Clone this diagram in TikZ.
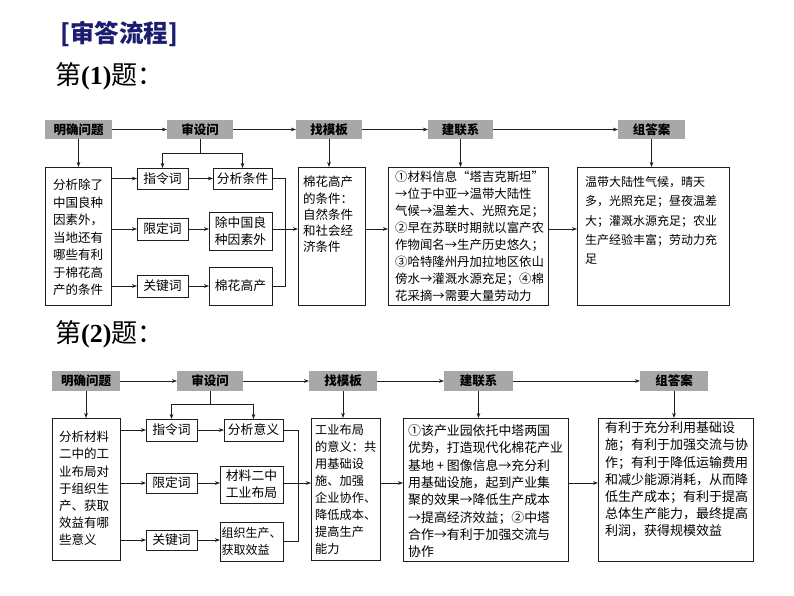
\documentclass[tikz,border=0pt]{standalone}
\usepackage{fontspec}
\setmainfont{Noto Sans CJK SC}
\newfontfamily\serifL{Liberation Serif}
\usetikzlibrary{arrows.meta}
\definecolor{navy}{RGB}{28,28,112}
\definecolor{hdrgray}{RGB}{168,168,168}
\definecolor{edge}{RGB}{30,30,30}
\tikzset{
  box/.style={draw=edge, line width=0.9pt, inner sep=0pt, outer sep=0pt},
  hdr/.style={fill=hdrgray, draw=none, inner sep=0pt, outer sep=0pt, font=\fontsize{12.5}{14}\selectfont\bfseries},
  sm/.style={box, align=center, font=\fontsize{12.8}{17}\selectfont},
  txt/.style={inner sep=0pt, align=left, anchor=west},
  arr/.style={-{Stealth[length=5pt,width=3.6pt]}, line width=0.8pt, draw=edge},
  ln/.style={line width=0.8pt, draw=edge},
  sz/.style 2 args={minimum width=#1pt, minimum height=#2pt},
}
\begin{document}
\begin{tikzpicture}[x=1pt,y=-1pt]
\useasboundingbox (0,0) rectangle (794,596);

% titles
\node[anchor=west, inner sep=0pt, text=navy, font=\fontsize{24.5}{28}\selectfont\bfseries] (title) at (60,34) {[审答流程]};
\node[anchor=west, inner sep=0pt, font=\fontsize{26}{30}\selectfont] (q1) at (55,76.5) {第{\serifL\bfseries (1)}题：};
\node[anchor=west, inner sep=0pt, font=\fontsize{26}{30}\selectfont] (q2) at (55,334.5) {第{\serifL\bfseries (2)}题：};

% ================= Diagram 1 =================
\node[hdr, sz={67}{19}] (ha1) at (78.5,129.5) {明确问题};
\node[hdr, sz={66}{19}] (ha2) at (200,129.5) {审设问};
\node[hdr, sz={66}{19}] (ha3) at (329,129.5) {找模板};
\node[hdr, sz={65}{19}] (ha4) at (460.5,129.5) {建联系};
\node[hdr, sz={67}{19}] (ha5) at (651.5,129.5) {组答案};

\node[box, sz={66}{138}] (a1) at (78,236) {};
\node[sm, sz={51}{21}] (a2) at (162.5,178.5) {指令词};
\node[sm, sz={59}{21}] (a3) at (242.5,178.5) {分析条件};
\node[sm, sz={51}{22}] (a4) at (162.5,229) {限定词};
\node[sm, sz={63}{38}] (a5) at (240.5,231) {除中国良\\种因素外};
\node[sm, sz={51}{22}] (a6) at (162.5,286) {关键词};
\node[sm, sz={63}{38}] (a7) at (240.5,286) {棉花高产};
\node[box, sz={67}{138}] (a8) at (331.5,236) {};
\node[box, sz={160}{138}] (a9) at (468,236) {};
\node[box, sz={152}{138}] (a10) at (653,236) {};

\node[txt, font=\fontsize{12.5}{17.5}\selectfont] (a1t) at (53,237.5)
  {分析除了\\中国良种\\因素外，\\当地还有\\哪些有利\\于棉花高\\产的条件};
\node[txt, font=\fontsize{12.5}{16.25}\selectfont] (a8t) at (303,214.5)
  {棉花高产\\的条件：\\自然条件\\和社会经\\济条件};
\node[txt, font=\fontsize{12.4}{17}\selectfont] (a9t) at (395,236.4)
  {①材料信息“塔吉克斯坦”\\→位于中亚→温带大陆性\\气候→温差大、光照充足；\\②早在苏联时期就以富产农\\作物闻名→生产历史悠久；\\③哈特隆州丹加拉地区依山\\傍水→灌溉水源充足；④棉\\花采摘→需要大量劳动力};
\node[txt, font=\fontsize{12}{19.3}\selectfont] (a10t) at (585,220.6)
  {温带大陆性气候，晴天\\多，光照充足；昼夜温差\\大；灌溉水源充足；农业\\生产经验丰富；劳动力充\\足};

\draw[arr] (ha1.east) -- (ha2.west);
\draw[arr] (ha2.east) -- (ha3.west);
\draw[arr] (ha3.east) -- (ha4.west);
\draw[arr] (ha4.east) -- (ha5.west);

\draw[arr] (ha1.south) -- (ha1.south |- a1.north);
\draw[ln] (ha2.south) -- ++(0,14) coordinate (s1);
\draw[ln] (s1 -| a2.north) -- (s1 -| a3.north);
\draw[arr] (s1 -| a2.north) -- (a2.north);
\draw[arr] (s1 -| a3.north) -- (a3.north);
\draw[arr] (ha3.south) -- (ha3.south |- a8.north);
\draw[arr] (ha4.south) -- (ha4.south |- a9.north);
\draw[arr] (ha5.south) -- (ha5.south |- a10.north);

\draw[arr] (a1.east |- a2.west) -- (a2.west);
\draw[arr] (a1.east |- a4.west) -- (a4.west);
\draw[arr] (a1.east |- a6.west) -- (a6.west);
\draw[arr] (a2.east) -- (a2.east -| a3.west);
\draw[arr] (a4.east) -- (a4.east -| a5.west);
\draw[arr] (a6.east) -- (a6.east -| a7.west);

\coordinate (bar1) at (285,0);
\draw[ln] (a3.east) -- (a3.east -| bar1) -- (a7.east -| bar1) -- (a7.east);
\draw[arr] (a4.east -| a5.east) -- (a4.east -| a8.west);
\draw[arr] (a4.east -| a8.east) -- (a4.east -| a9.west);
\draw[arr] (a4.east -| a9.east) -- (a4.east -| a10.west);

% ================= Diagram 2 =================
\node[hdr, sz={68}{20}] (hb1) at (86,381) {明确问题};
\node[hdr, sz={66}{20}] (hb2) at (210,381) {审设问};
\node[hdr, sz={68}{20}] (hb3) at (343,381) {找模板};
\node[hdr, sz={69}{20}] (hb4) at (478.5,381) {建联系};
\node[hdr, sz={68}{20}] (hb5) at (674,381) {组答案};

\node[box, sz={68}{142}] (b1) at (86,489) {};
\node[sm, sz={51}{22}] (b2) at (171.5,430) {指令词};
\node[sm, sz={59}{22}] (b3) at (253.5,430) {分析意义};
\node[sm, sz={51}{20}] (b4) at (171.5,483) {限定词};
\node[sm, sz={63}{37}] (b5) at (251.5,484.5) {材料二中\\工业布局};
\node[sm, sz={51}{20}] (b6) at (171.5,540) {关键词};
\node[sm, sz={63}{39}, align=left, font=\fontsize{12}{17}\selectfont] (b7) at (251.5,541.5) {组织生产、\\获取效益};
\node[box, sz={69}{142}] (b8) at (345.5,489) {};
\node[box, sz={165}{143}] (b9) at (485.5,489.5) {};
\node[box, sz={155}{143}] (b10) at (675.5,489.5) {};

\node[txt, font=\fontsize{12.5}{17.2}\selectfont] (b1t) at (59,488.6)
  {分析材料\\二中的工\\业布局对\\于组织生\\产、获取\\效益有哪\\些意义};
\node[txt, font=\fontsize{12.2}{17}\selectfont] (b8t) at (315,489.5)
  {工业布局\\的意义：共\\用基础设\\施、加强\\企业协作、\\降低成本、\\提高生产\\能力};
\node[txt, font=\fontsize{12.9}{17.3}\selectfont] (b9t) at (408,491.2)
  {①该产业园依托中塔两国\\优势，打造现代化棉花产业\\基地 + 图像信息→充分利\\用基础设施，起到产业集\\聚的效果→降低生产成本\\→提高经济效益；②中塔\\合作→有利于加强交流与\\协作};
\node[txt, font=\fontsize{13}{17.2}\selectfont] (b10t) at (605,479.6)
  {有利于充分利用基础设\\施；有利于加强交流与协\\作；有利于降低运输费用\\和减少能源消耗，从而降\\低生产成本；有利于提高\\总体生产能力，最终提高\\利润，获得规模效益};

\draw[arr] (hb1.east) -- (hb2.west);
\draw[arr] (hb2.east) -- (hb3.west);
\draw[arr] (hb3.east) -- (hb4.west);
\draw[arr] (hb4.east) -- (hb5.west);

\draw[arr] (hb1.south) -- (hb1.south |- b1.north);
\draw[ln] (hb2.south) -- ++(0,13) coordinate (s2);
\draw[ln] (s2 -| b2.north) -- (s2 -| b3.north);
\draw[arr] (s2 -| b2.north) -- (b2.north);
\draw[arr] (s2 -| b3.north) -- (b3.north);
\draw[arr] (hb3.south) -- (hb3.south |- b8.north);
\draw[arr] (hb4.south) -- (hb4.south |- b9.north);
\draw[arr] (hb5.south) -- (hb5.south |- b10.north);

\draw[arr] (b1.east |- b2.west) -- (b2.west);
\draw[arr] (b1.east |- b4.west) -- (b4.west);
\draw[arr] (b1.east |- b6.west) -- (b6.west);
\draw[arr] (b2.east) -- (b2.east -| b3.west);
\draw[arr] (b4.east) -- (b4.east -| b5.west);
\draw[arr] (b6.east) -- (b6.east -| b7.west);

\coordinate (bar2) at (298,0);
\draw[ln] (b3.east) -- (b3.east -| bar2) -- (b7.east -| bar2) -- (b7.east);
\draw[arr] (b4.east -| b5.east) -- (b4.east -| b8.west);
\draw[arr] (b4.east -| b8.east) -- (b4.east -| b9.west);
\draw[arr] (b4.east -| b9.east) -- (b4.east -| b10.west);
\end{tikzpicture}
\end{document}
